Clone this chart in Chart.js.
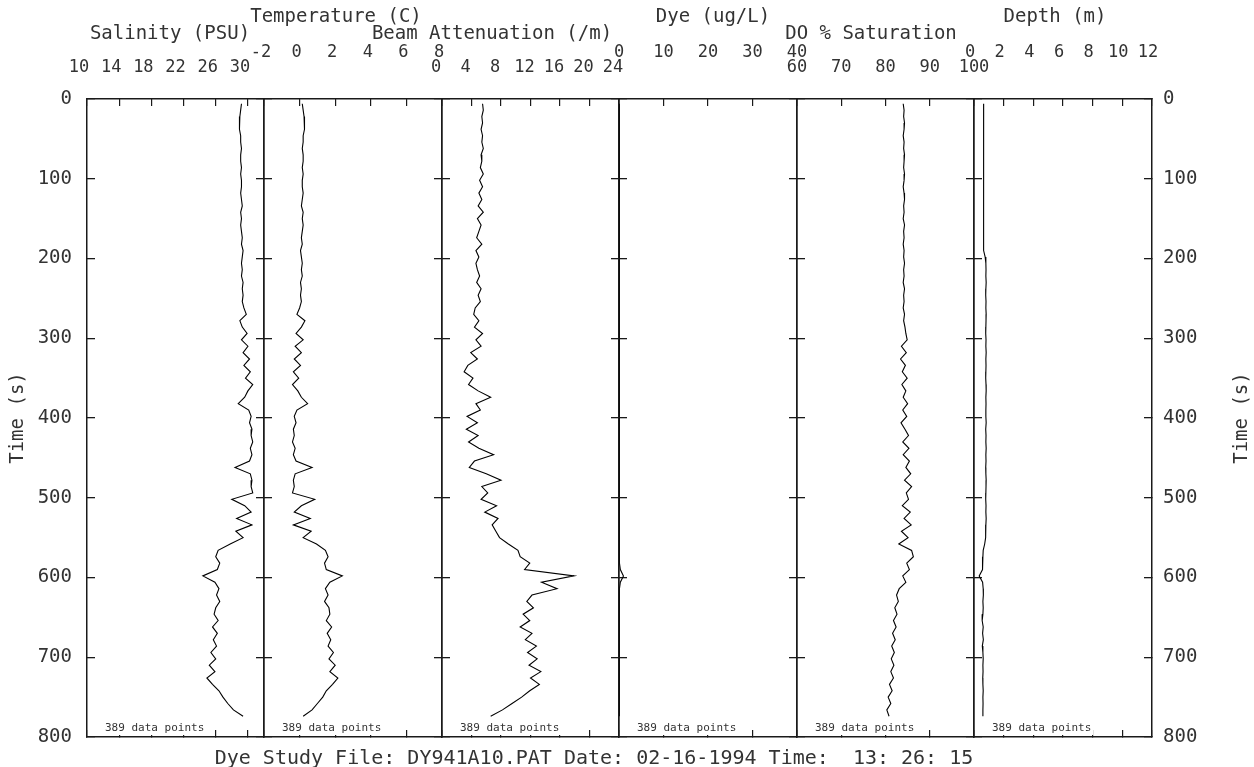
<!DOCTYPE html>
<html><head><meta charset="utf-8">
<script src="https://cdn.jsdelivr.net/npm/chart.js@4.4.1/dist/chart.umd.min.js"></script>
<style>
html,body{margin:0;padding:0;background:#fff;}
#wrap{position:relative;width:1254px;height:767px;overflow:hidden;background:#fff;}
#wrap canvas{position:absolute;top:0;}
.txt{position:absolute;font-family:"DejaVu Sans Mono",monospace;color:#333;white-space:pre;}
#footer{left:0;width:1188px;top:746px;height:22px;line-height:22px;font-size:20px;text-align:center;}
#rtitle{left:1180px;top:406px;width:120px;height:24px;line-height:24px;font-size:19px;text-align:center;transform:rotate(-90deg);}
.ptitle{height:24px;line-height:24px;font-size:19px;text-align:center;width:300px;}
</style></head><body>
<div id="wrap">
<div id="footer" class="txt">Dye Study File: DY941A10.PAT Date: 02-16-1994 Time:  13: 26: 15</div>
<div id="rtitle" class="txt">Time (s)</div>
</div>
<script>
// ---- data (time in seconds, top to bottom) ----
const TIME = [6,14,22,30,38,46,54,62,70,78,86,94,102,110,118,126,134,142,150,158,166,174,182,190,198,206,214,222,230,238,246,254,262,270,278,286,294,302,310,318,326,334,342,350,358,366,374,382,390,398,406,414,422,430,438,446,454,462,470,478,486,494,502,510,518,526,534,542,550,558,566,574,582,590,598,606,614,622,630,638,646,654,662,670,678,686,694,702,710,718,726,734,742,750,758,766,774];
const SALINITY = [29.2,29.1,29.0,28.9,29.0,29.1,29.1,29.2,29.1,29.1,
 29.2,29.1,29.2,29.2,29.1,29.2,29.3,29.1,29.2,29.1,
 29.2,29.3,29.2,29.4,29.3,29.2,29.3,29.2,29.4,29.3,
 29.4,29.3,29.5,29.8,29.0,29.3,29.9,29.2,30.0,29.4,
 30.2,29.5,30.3,29.7,30.6,30.0,29.6,28.8,30.1,30.4,
 30.2,30.5,30.4,30.6,30.3,30.5,30.2,28.4,30.3,30.5,
 30.4,30.6,28.0,29.6,30.4,28.6,30.5,28.5,29.4,27.8,
 26.3,26.0,26.5,26.2,24.4,25.9,26.4,26.1,26.5,26.0,
 25.8,26.3,25.6,26.2,25.7,26.1,25.4,26.0,25.2,25.9,
 24.9,25.6,26.4,26.9,27.5,28.2,29.4];
const TEMPERATURE = [0.15,0.2,0.25,0.3,0.25,0.2,0.2,0.15,0.2,0.2,
 0.15,0.2,0.15,0.15,0.2,0.15,0.1,0.2,0.15,0.2,
 0.15,0.1,0.15,0.05,0.1,0.15,0.1,0.15,0.05,0.1,
 0.05,0.1,0.0,-0.15,0.3,0.1,-0.2,0.2,-0.25,0.1,
 -0.3,0.05,-0.35,-0.05,-0.4,-0.1,0.1,0.45,-0.15,-0.3,
 -0.2,-0.35,-0.3,-0.4,-0.25,-0.35,-0.2,0.7,-0.25,-0.35,
 -0.3,-0.4,0.85,0.1,-0.3,0.6,-0.35,0.65,0.2,0.95,
 1.45,1.6,1.4,1.5,2.4,1.7,1.45,1.6,1.4,1.65,
 1.7,1.5,1.8,1.55,1.75,1.6,1.9,1.65,2.0,1.7,
 2.15,1.85,1.5,1.3,1.0,0.7,0.2];
const BEAM = [5.5,5.6,5.4,5.5,5.3,5.5,5.4,5.6,5.3,5.4,
 5.2,5.6,5.1,5.5,5.0,5.4,4.9,5.6,4.8,5.3,
 5.0,4.7,5.4,4.6,5.0,4.6,4.8,5.1,4.7,5.3,
 4.9,5.2,4.5,4.3,5.0,4.4,5.5,4.6,5.3,3.9,
 4.8,3.5,3.0,4.2,3.6,4.9,6.6,4.6,5.2,3.4,
 4.8,3.3,4.9,3.6,5.0,7.0,4.4,3.7,6.0,8.0,
 5.4,6.2,5.3,7.4,5.8,7.6,6.8,7.3,7.8,9.0,
 10.3,10.6,11.9,11.2,17.9,13.5,15.6,12.2,11.5,12.4,
 11.0,11.9,10.6,12.2,11.3,12.8,11.6,12.9,11.8,13.4,
 12.0,13.2,11.9,10.8,9.5,8.2,6.6];
const DYE = [0.1,0.1,0.1,0.1,0.1,0.1,0.1,0.1,0.1,0.1,
 0.1,0.1,0.1,0.1,0.1,0.1,0.1,0.1,0.1,0.1,
 0.1,0.1,0.1,0.1,0.1,0.1,0.1,0.1,0.1,0.1,
 0.1,0.1,0.1,0.1,0.1,0.1,0.1,0.1,0.1,0.1,
 0.1,0.1,0.1,0.1,0.1,0.1,0.1,0.1,0.1,0.1,
 0.1,0.1,0.1,0.1,0.1,0.1,0.1,0.1,0.1,0.1,
 0.1,0.1,0.1,0.1,0.1,0.1,0.1,0.1,0.1,0.1,
 0.1,0.1,0.1,0.3,1.0,0.3,0.1,0.1,0.1,0.1,
 0.1,0.1,0.1,0.1,0.1,0.1,0.1,0.1,0.1,0.1,
 0.1,0.1,0.1,0.1,0.1,0.1,0.1];
const DO_SAT = [84.0,84.2,84.1,84.3,84.2,84.0,84.2,84.1,84.3,84.2,
 84.1,84.3,84.2,84.0,84.2,84.3,84.1,84.2,84.0,84.3,
 84.1,84.2,84.0,84.2,84.1,84.3,84.1,84.2,84.0,84.3,
 84.1,84.2,84.0,84.3,84.1,84.4,84.6,84.9,83.6,84.7,
 83.4,84.5,83.8,84.9,83.7,84.6,84.0,85.0,83.9,84.8,
 83.5,84.4,85.2,83.9,85.3,84.0,85.4,84.6,85.7,84.3,
 85.9,84.7,85.2,83.8,85.6,84.2,85.8,83.6,85.1,83.0,
 85.9,86.3,84.8,85.4,83.9,84.6,83.1,82.5,82.9,82.1,
 82.6,81.8,82.4,81.6,82.2,81.4,82.0,81.3,81.9,81.2,
 81.8,80.9,81.5,80.6,81.2,80.3,80.8];
const DEPTH = [0.65,0.64,0.66,0.65,0.63,0.65,0.66,0.64,0.65,0.65,
 0.63,0.66,0.65,0.64,0.66,0.65,0.64,0.65,0.66,0.64,
 0.65,0.63,0.65,0.66,0.75,
 0.8,0.81,0.8,0.82,0.8,0.79,0.81,0.8,0.82,0.81,
 0.8,0.79,0.81,0.8,0.82,0.8,0.81,0.8,0.79,0.81,
 0.82,0.8,0.81,0.8,0.8,0.82,0.79,0.81,0.8,0.82,
 0.8,0.81,0.79,0.8,0.82,0.81,0.8,0.79,0.81,0.8,
 0.82,0.8,0.79,0.78,
 0.72,0.62,0.6,0.6,0.55,0.35,
 0.58,0.62,0.63,0.6,0.62,0.6,0.55,0.62,0.58,0.63,
 0.56,0.6,0.62,0.6,0.61,0.59,0.6,0.62,0.6,0.61,0.6,0.6];

// ---- axes / labels ----
const TIME_TICKS = [0,100,200,300,400,500,600,700,800];
const TIME_RANGE = [0,800];
const PANEL_TITLES = ['Salinity (PSU)','Temperature (C)','Beam Attenuation (/m)','Dye (ug/L)','DO % Saturation','Depth (m)'];
const SAL_TICKS = [10,14,18,22,26,30];
const TEMP_TICKS = [-2,0,2,4,6,8];
const BEAM_TICKS = [0,4,8,12,16,20,24];
const DYE_TICKS = [0,10,20,30,40];
const DO_TICKS = [60,70,80,90,100];
const DEPTH_TICKS = [0,2,4,6,8,10,12];
const SAL_RANGE = [10,32];
const TEMP_RANGE = [-2,8];
const BEAM_RANGE = [0,24];
const DYE_RANGE = [0,40];
const DO_RANGE = [60,100];
const DEPTH_RANGE = [0,12];
const POINT_COUNT_LABEL = '389 data points';

const SERIES = [SALINITY, TEMPERATURE, BEAM, DYE, DO_SAT, DEPTH];
const TICKS = [SAL_TICKS, TEMP_TICKS, BEAM_TICKS, DYE_TICKS, DO_TICKS, DEPTH_TICKS];
const RANGES = [SAL_RANGE, TEMP_RANGE, BEAM_RANGE, DYE_RANGE, DO_RANGE, DEPTH_RANGE];

// ---- layout ----
const FONT = '"DejaVu Sans Mono", monospace';
const INK = '#1a1a1a';
const TXT = '#333';
const EDGES = [87,264,442,619,797,974,1152];
const TITLE_CENTERS = [170, 336, 492, 713, 871, 1055];
const TITLE_ROWS = [32, 15, 32, 15, 32, 15];
const LABEL_SHIFT = [-8, -3, -6, 0, 0, -4];
const TOP_H = 99, BOTTOM_H = 30, H = 767;

const pointCountPlugin = {
  id: 'pointCount',
  afterDraw(chart, args, opts) {
    const {ctx, chartArea} = chart;
    ctx.save();
    ctx.font = '11px ' + FONT;
    const tw = ctx.measureText(opts.text).width;
    const x = chartArea.left + 18, y = chartArea.bottom - 9;
    ctx.fillStyle = '#fff';
    ctx.fillRect(x - 2, y - 6, tw + 4, 13);
    ctx.fillStyle = TXT;
    ctx.textBaseline = 'middle';
    ctx.fillText(opts.text, x, y);
    ctx.restore();
  }
};

function zeroPad(s){ s.paddingLeft = 0; s.paddingRight = 0; s.paddingTop = 0; s.paddingBottom = 0; }

const wrap = document.getElementById('wrap');
for (let i = 0; i < 6; i++) {
  const tdiv = document.createElement('div');
  tdiv.className = 'txt ptitle';
  tdiv.textContent = PANEL_TITLES[i];
  tdiv.style.left = (TITLE_CENTERS[i] - 150) + 'px';
  tdiv.style.top = (TITLE_ROWS[i] - 12) + 'px';
  wrap.appendChild(tdiv);

  const Lw = i === 0 ? 87 : 24;
  const Rw = i === 5 ? 102 : 24;
  const left = EDGES[i] - Lw;
  const width = EDGES[i+1] - EDGES[i] + Lw + Rw;
  const cv = document.createElement('canvas');
  cv.width = width; cv.height = H;
  cv.style.left = left + 'px';
  cv.style.width = width + 'px'; cv.style.height = H + 'px';
  wrap.insertBefore(cv, wrap.firstChild);
  const rowB = (i % 2 === 0);
  const ticks = TICKS[i];
  const [mn, mx] = RANGES[i];
  const gridCfg = {drawOnChartArea:false, tickLength:-7, color:INK, lineWidth:1.2};
  const yGrid = {drawOnChartArea:false, tickLength:-8, color:INK, lineWidth:1.3};
  const border = {display:true, color:INK, width:1.5};
  new Chart(cv, {
    type: 'line',
    data: { datasets: [{
      data: TIME.map((t, k) => ({x: SERIES[i][k], y: t})),
      borderColor: '#000', borderWidth: 1.1, pointRadius: 0, tension: 0, fill: false,
      xAxisID: 'x', yAxisID: 'y'
    }]},
    plugins: [pointCountPlugin],
    options: {
      responsive: false, animation: false, events: [],
      layout: {padding: 0},
      plugins: {legend:{display:false}, tooltip:{enabled:false}, pointCount:{text: POINT_COUNT_LABEL}},
      scales: {
        x: {type:'linear', position:'top', min:mn, max:mx,
          afterBuildTicks: s => { s.ticks = ticks.map(v => ({value:v})); },
          afterFit: s => { s.height = TOP_H; zeroPad(s); },
          grid: gridCfg, border: border,
          ticks: {font:{family:FONT, size:17}, color:TXT, padding: rowB ? 28 : 43, labelOffset: LABEL_SHIFT[i], maxRotation:0, autoSkip:false},
          title: {display:false}
        },
        xb: {type:'linear', position:'bottom', min:mn, max:mx,
          afterBuildTicks: s => { s.ticks = ticks.map(v => ({value:v})); },
          afterFit: s => { s.height = BOTTOM_H; zeroPad(s); },
          grid: gridCfg, border: border, ticks:{display:false}
        },
        y: {type:'linear', position:'left', reverse:true, min:TIME_RANGE[0], max:TIME_RANGE[1],
          afterBuildTicks: s => { s.ticks = TIME_TICKS.map(v => ({value:v})); },
          afterFit: s => { s.width = Lw; zeroPad(s); },
          grid: yGrid, border: border,
          ticks: {display: i === 0, font:{family:FONT, size:19}, color:TXT, padding:23},
          title: {display: i === 0, text:'Time (s)', color:TXT, font:{family:FONT, size:19}, padding:{top:7, bottom:0}}
        },
        yr: {type:'linear', position:'right', reverse:true, min:TIME_RANGE[0], max:TIME_RANGE[1],
          afterBuildTicks: s => { s.ticks = TIME_TICKS.map(v => ({value:v})); },
          afterFit: s => { s.width = Rw; zeroPad(s); },
          grid: yGrid, border: border,
          ticks: {display: i === 5, font:{family:FONT, size:19}, color:TXT, padding:19}
        }
      }
    }
  });
}
</script>
</body></html>
